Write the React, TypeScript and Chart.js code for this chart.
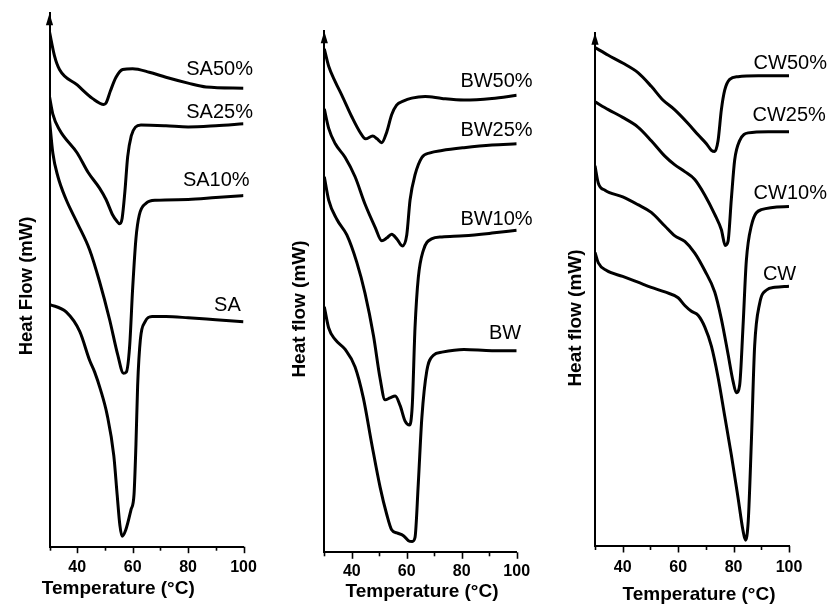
import React, { useEffect, useRef } from "react";
import { Chart, registerables } from "chart.js";

Chart.register(...registerables);

// ---------------- Data: stearic acid (SA) panel ----------------
const SA50_T = [30, 31.8, 33.6, 40, 45.6, 49.6, 50.5, 52, 54, 56.4, 60, 66, 72, 80, 86.5, 100];
const SA50_H = [442.3, 421.7, 410, 396.7, 385, 380, 381.7, 391.7, 403.3, 410, 410.7, 407.7, 403.3, 398.3, 395, 394];
const SA25_T = [30, 31.2, 33.6, 40, 43.9, 48, 50.4, 52.8, 54.2, 55.3, 56.2, 57.2, 58.2, 59.5, 61, 63, 72, 80, 90, 100];
const SA25_H = [386.7, 371.7, 358.3, 338.3, 321.7, 308.3, 298.3, 285, 280, 277.5, 282, 305, 335, 353, 360.5, 362.3, 361.7, 360.7, 361.7, 363.3];
const SA10_T = [30, 31.2, 33, 36, 40, 44.5, 48, 51.7, 54.6, 56.7, 57.7, 58.9, 60, 61.2, 62.4, 64.8, 68.4, 80, 90, 100];
const SA10_H = [366.7, 338.3, 318.3, 298.3, 278.3, 255, 228.3, 195, 165, 149, 150, 171.7, 221.7, 265, 285, 295, 297.7, 298.3, 300, 301.7];
const SA_T = [30, 36, 40.9, 44.5, 46.3, 48.4, 50.8, 53.2, 54.4, 55.4, 56.2, 57.5, 59.4, 60.5, 61.2, 61.8, 62.8, 64.5, 67, 72, 80, 90, 100];
const SA_H = [208.3, 201.7, 185, 160, 150, 135, 113.3, 78.3, 45, 18.3, 9, 14.3, 31.7, 45, 88.3, 138.3, 178.3, 193.3, 197.7, 197.7, 196.7, 195, 193.3];

// ---------------- Data: beeswax (BW) panel ----------------
const BW50_T = [30, 31.6, 34, 36.4, 40, 43, 45, 47.6, 49.2, 50.9, 52.7, 54.5, 56.3, 58.7, 61.8, 66.7, 72.8, 80.8, 91, 100];
const BW50_H = [432.7, 417.7, 404.3, 392.7, 374.3, 361, 355.3, 357.7, 355.3, 352, 361, 376, 384.3, 387.7, 390.3, 391.7, 390, 388.7, 390, 392.7];
const BW25_T = [30, 31.6, 34, 37.6, 41.2, 44.8, 48.5, 50.9, 52.7, 54.5, 56.4, 58.4, 60, 61.2, 63, 65.5, 68.5, 72.8, 80.8, 91, 100];
const BW25_H = [381, 364.3, 351, 339.3, 322.7, 299.3, 279.3, 267.7, 270, 273.3, 269.3, 263.3, 272.7, 302.7, 324.3, 339.3, 343.3, 345.3, 347.7, 350, 351];
const BW10_T = [30, 31.6, 34.6, 38.2, 41.8, 44.8, 47.9, 50.3, 52.1, 53.9, 55.8, 57.6, 59.4, 61, 62, 63, 64.2, 66, 69, 72.8, 80.8, 91, 100];
const BW10_H = [322.7, 302.7, 286, 272.7, 249.3, 222.7, 186, 149.3, 131, 132.7, 134.3, 126, 112.7, 109.3, 126, 192.7, 236, 259.3, 269.3, 271, 272, 274.3, 276.7];
const BW_T = [30, 31.6, 34, 37.6, 41.2, 44.2, 47.3, 50.3, 52.7, 54.5, 56.4, 58.8, 60.6, 62, 63, 64.2, 65.5, 67.3, 69.7, 72.8, 80.8, 91, 100];
const BW_H = [211, 192.7, 182.7, 174.3, 159.3, 132.7, 92.7, 56, 32.7, 19.3, 16.7, 14.3, 10, 9.3, 12.7, 59.3, 116, 156, 169.3, 172, 174.3, 173.3, 173.3];

// ---------------- Data: carnauba wax (CW) panel ----------------
const CW50_T = [30, 34.8, 40, 45.5, 50.3, 54.5, 58.7, 63.5, 67.2, 70.2, 72, 73.2, 74.4, 75.6, 76.8, 78.6, 81.6, 88.9, 100];
const CW50_H = [428.3, 421.7, 415, 406.7, 395, 383.3, 375, 363.3, 353.3, 345.7, 340, 339, 348.3, 375, 391.7, 401, 403.3, 404, 404];
const CW25_T = [30, 34.8, 40, 45.5, 50.3, 55.2, 58.7, 62.4, 66, 69.6, 73.2, 75.6, 77, 78, 79.2, 80.4, 82.2, 85.3, 92.5, 100];
const CW25_H = [381.7, 375, 368.3, 360, 348.3, 335, 327.7, 321.7, 315, 301.7, 285, 271.7, 258.3, 261.7, 298.3, 331.7, 348.3, 355, 356, 356];
const CW10_T = [30, 31.2, 33.6, 40, 45.5, 50.3, 55.2, 58.7, 62.4, 66, 69.6, 73.2, 75.6, 78, 79.8, 81, 82.2, 83.4, 84.6, 86.4, 90, 100];
const CW10_H = [326.7, 311.7, 305.7, 300, 293.3, 286.7, 275, 266.7, 261.7, 251.7, 236.7, 218.3, 195, 165, 141.7, 131.7, 138.3, 188.3, 245, 275, 289, 291.7];
const CW_T = [30, 31.2, 34.2, 40, 45.5, 50.3, 55.2, 60, 62.4, 64.8, 67.2, 69.6, 72, 74.4, 76.8, 79.2, 81.6, 83.4, 84.3, 85.3, 86.4, 87.6, 89.4, 91.9, 94.9, 100];
const CW_H = [252.3, 243.3, 236.7, 231.7, 226.7, 222.3, 218.3, 213.3, 206.7, 201.7, 198.3, 188.3, 171.7, 145, 111.7, 78.3, 41.7, 13.3, 5, 21.7, 88.3, 171.7, 208.3, 220, 222.3, 223.3];

// Curve label anchors (right end of text), in data units [temperature, heat flow]
const SA50_LABEL = [103.4, 410];
const SA25_LABEL = [103.4, 373.3];
const SA10_LABEL = [102.2, 315];
const SA_LABEL = [99, 207.3];
const BW50_LABEL = [105.8, 404.3];
const BW25_LABEL = [105.8, 362.7];
const BW10_LABEL = [105.8, 286];
const BW_LABEL = [101.6, 187.7];
const CW50_LABEL = [113.7, 415];
const CW25_LABEL = [113.3, 370];
const CW10_LABEL = [113.7, 303.3];
const CW_LABEL = [102.6, 233.3];

// Axis ticks
const X_TICKS = [30, 40, 50, 60, 70, 80, 90, 100];
const X_LABELED = [40, 60, 80, 100];
const X_TITLE = "Temperature (°C)";

const FONT = '"Liberation Sans", Arial, Helvetica, sans-serif';

type Series = { name: string; t: number[]; h: number[]; label: number[] };
type PanelCfg = {
  offsetX: number;
  area: { left: number; right: number; top: number; bottom: number };
  yMax: number;
  tickPad: number;
  yTitle: string;
  yTitleAt: [number, number];
  yTitleSize: number;
  xTitleAt: [number, number];
  series: Series[];
};

const CANVAS_W = 276;
const CANVAS_H = 605;

const PANELS: PanelCfg[] = [
  {
    offsetX: 0,
    area: { left: 49.5, right: 243.5, top: 13.3, bottom: 546.7 },
    yMax: 458.3,
    tickPad: 11.3,
    yTitle: "Heat Flow (mW)",
    yTitleAt: [26.7, 286],
    yTitleSize: 18.5,
    xTitleAt: [118.3, 588.3],
    series: [
      { name: "SA50%", t: SA50_T, h: SA50_H, label: SA50_LABEL },
      { name: "SA25%", t: SA25_T, h: SA25_H, label: SA25_LABEL },
      { name: "SA10%", t: SA10_T, h: SA10_H, label: SA10_LABEL },
      { name: "SA", t: SA_T, h: SA_H, label: SA_LABEL },
    ],
  },
  {
    offsetX: 276,
    area: { left: 48.3, right: 240.7, top: 31.3, bottom: 552.3 },
    yMax: 447.7,
    tickPad: 9.9,
    yTitle: "Heat flow (mW)",
    yTitleAt: [24, 309],
    yTitleSize: 19,
    xTitleAt: [146, 591.7],
    series: [
      { name: "BW50%", t: BW50_T, h: BW50_H, label: BW50_LABEL },
      { name: "BW25%", t: BW25_T, h: BW25_H, label: BW25_LABEL },
      { name: "BW10%", t: BW10_T, h: BW10_H, label: BW10_LABEL },
      { name: "BW", t: BW_T, h: BW_H, label: BW_LABEL },
    ],
  },
  {
    offsetX: 552,
    area: { left: 43, right: 237, top: 32.8, bottom: 546 },
    yMax: 441,
    tickPad: 11.8,
    yTitle: "Heat flow (mW)",
    yTitleAt: [23.5, 318],
    yTitleSize: 19,
    xTitleAt: [147, 595],
    series: [
      { name: "CW50%", t: CW50_T, h: CW50_H, label: CW50_LABEL },
      { name: "CW25%", t: CW25_T, h: CW25_H, label: CW25_LABEL },
      { name: "CW10%", t: CW10_T, h: CW10_H, label: CW10_LABEL },
      { name: "CW", t: CW_T, h: CW_H, label: CW_LABEL },
    ],
  },
];

const decorPlugin = {
  id: "decor",
  afterDraw(chart: any, _args: any, opts: any) {
    const cfg: PanelCfg = opts.cfg;
    const { ctx, chartArea } = chart;
    const xs = chart.scales.x;
    const ys = chart.scales.y;
    ctx.save();
    ctx.fillStyle = "#000";
    ctx.strokeStyle = "#000";

    // arrow head on the y axis
    const ax = chartArea.left;
    ctx.beginPath();
    ctx.moveTo(ax, chartArea.top);
    ctx.lineTo(ax - 3.6, chartArea.top + 12);
    ctx.lineTo(ax + 3.6, chartArea.top + 12);
    ctx.closePath();
    ctx.fill();

    // x tick marks (major longer, minor shorter)
    ctx.lineWidth = 1.6;
    for (const t of X_TICKS) {
      const px = Math.round(xs.getPixelForValue(t)) + 0.5;
      const len = X_LABELED.includes(t) ? 6.5 : 4;
      ctx.beginPath();
      ctx.moveTo(px, chartArea.bottom);
      ctx.lineTo(px, chartArea.bottom + len);
      ctx.stroke();
    }

    // curve labels
    ctx.font = `20px ${FONT}`;
    ctx.textAlign = "right";
    ctx.textBaseline = "middle";
    for (const s of cfg.series) {
      ctx.fillText(s.name, xs.getPixelForValue(s.label[0]), ys.getPixelForValue(s.label[1]));
    }

    // axis titles
    ctx.font = `bold 19px ${FONT}`;
    ctx.textAlign = "center";
    ctx.fillText(X_TITLE, cfg.xTitleAt[0], cfg.xTitleAt[1]);
    ctx.save();
    ctx.translate(cfg.yTitleAt[0], cfg.yTitleAt[1]);
    ctx.rotate(-Math.PI / 2);
    ctx.font = `bold ${cfg.yTitleSize}px ${FONT}`;
    ctx.fillText(cfg.yTitle, 0, 0);
    ctx.restore();

    ctx.restore();
  },
};

function Panel({ cfg }: { cfg: PanelCfg }) {
  const ref = useRef<HTMLCanvasElement>(null);
  useEffect(() => {
    if (!ref.current) return;
    const chart = new Chart(ref.current, {
      type: "line",
      data: {
        datasets: cfg.series.map((s) => ({
          label: s.name,
          data: s.t.map((t, i) => ({ x: t, y: s.h[i] })),
          borderColor: "#000",
          borderWidth: 3,
          pointRadius: 0,
          fill: false,
          cubicInterpolationMode: "monotone" as const,
        })),
      },
      options: {
        animation: false,
        responsive: false,
        maintainAspectRatio: false,
        devicePixelRatio: 1,
        layout: {
          padding: { left: 0, top: cfg.area.top, right: CANVAS_W - cfg.area.right, bottom: 0 },
        },
        plugins: {
          legend: { display: false },
          tooltip: { enabled: false },
          decor: { cfg },
        } as any,
        scales: {
          x: {
            type: "linear",
            min: 30,
            max: 100,
            grid: { display: false, drawTicks: false },
            border: { display: true, color: "#000", width: 2 },
            ticks: {
              stepSize: 10,
              autoSkip: false,
              maxRotation: 0,
              padding: cfg.tickPad,
              color: "#000",
              font: { family: FONT, size: 16, weight: "bold" },
              callback: (v: any) => (X_LABELED.includes(Number(v)) ? String(v) : ""),
            },
            afterFit: (s: any) => {
              s.height = CANVAS_H - cfg.area.bottom;
            },
          },
          y: {
            type: "linear",
            min: 0,
            max: cfg.yMax,
            grid: { display: false, drawTicks: false },
            border: { display: true, color: "#000", width: 2 },
            ticks: { display: false },
            afterFit: (s: any) => {
              s.width = cfg.area.left;
            },
          },
        },
      },
      plugins: [decorPlugin],
    });
    return () => chart.destroy();
  }, [cfg]);
  return (
    <canvas
      ref={ref}
      width={CANVAS_W}
      height={CANVAS_H}
      style={{ position: "absolute", left: cfg.offsetX, top: 0, width: CANVAS_W, height: CANVAS_H }}
    />
  );
}

export default function App() {
  return (
    <div style={{ position: "absolute", left: 0, top: 0, width: 828, height: 605, background: "#fff", overflow: "hidden" }}>
      {PANELS.map((p, i) => (
        <Panel key={i} cfg={p} />
      ))}
    </div>
  );
}
